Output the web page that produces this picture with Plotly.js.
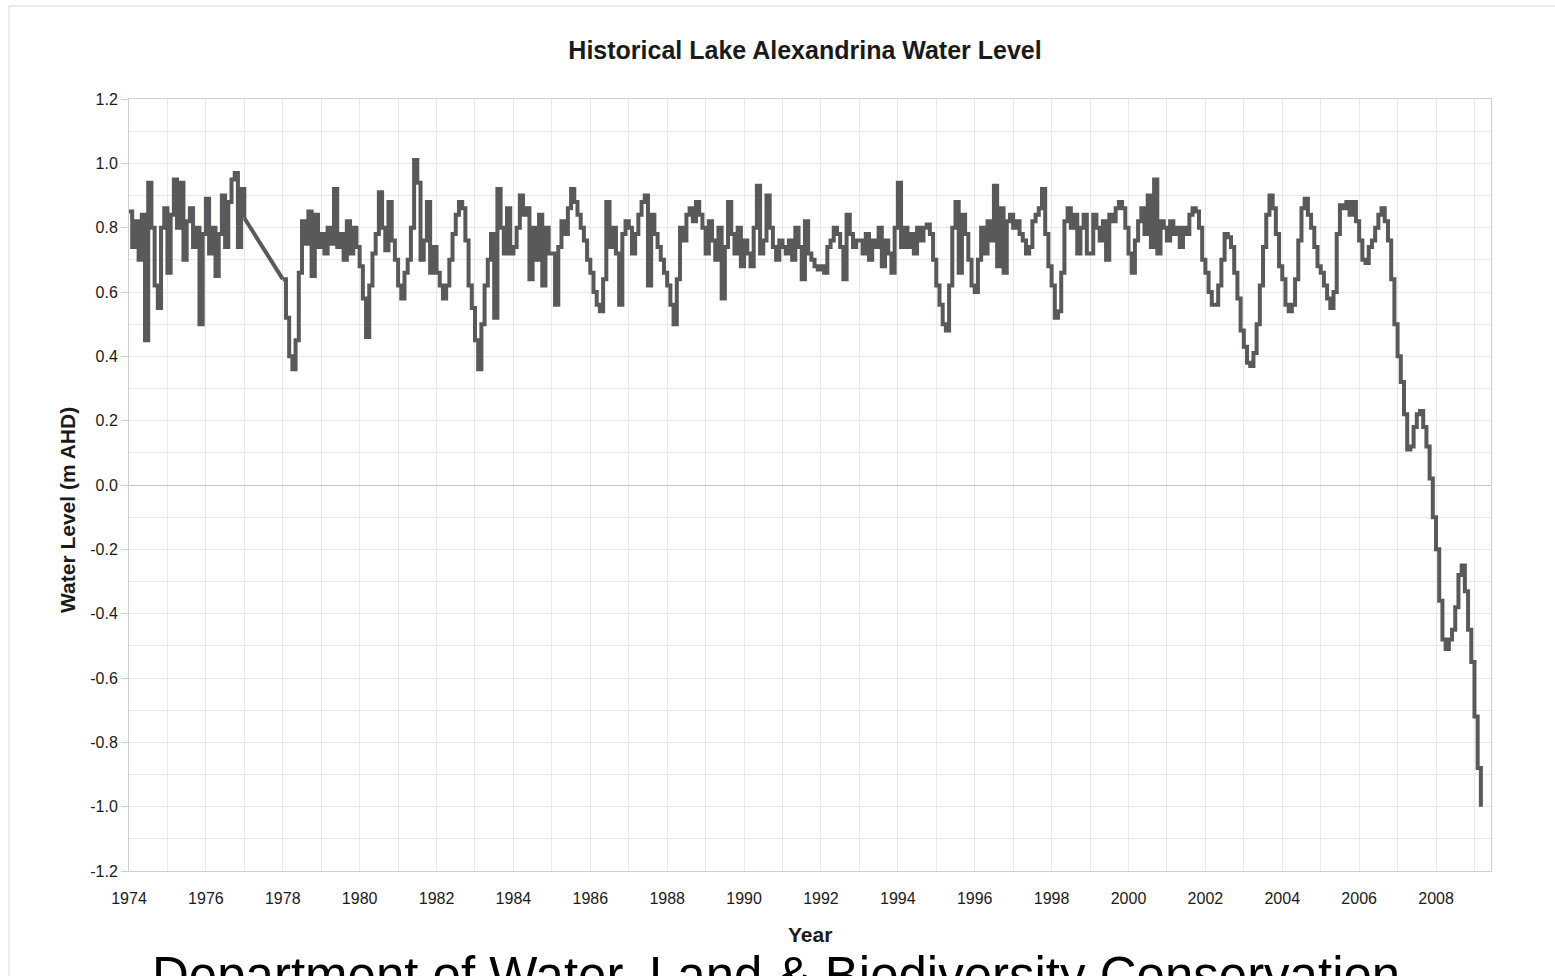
<!DOCTYPE html>
<html><head><meta charset="utf-8">
<script src="https://cdn.plot.ly/plotly-3.0.1.min.js"></script>
<style>html,body{margin:0;padding:0;background:#fff;}#chart{width:1555px;height:976px;}</style>
</head><body><div id="chart"></div>
<script>
// ---- chart text ----
const chartTitle = "Historical Lake Alexandrina Water Level";
const yTitle = "Water Level (m AHD)";
const xTitle = "Year";
const footerText = "Department of Water, Land & Biodiversity Conservation";

// ---- tick labels ----
const xTickVals = [1974,1976,1978,1980,1982,1984,1986,1988,1990,1992,1994,1996,1998,2000,2002,2004,2006,2008];
const xTickText = ["1974","1976","1978","1980","1982","1984","1986","1988","1990","1992","1994","1996","1998","2000","2002","2004","2006","2008"];
const yTickVals = [-1.2,-1.0,-0.8,-0.6,-0.4,-0.2,0.0,0.2,0.4,0.6,0.8,1.0,1.2];
const yTickText = ["-1.2","-1.0","-0.8","-0.6","-0.4","-0.2","0.0","0.2","0.4","0.6","0.8","1.0","1.2"];

// ---- monthly water levels (m AHD) ----
// Segment A: starts Jan 1974, monthly; last value = Jan 1977
const segAStart = 1974;
const levelsA = [
  0.85,0.74,0.82,0.70,0.84,0.45,0.94,0.80,0.62,0.55,0.80,0.86,   // 1974
  0.66,0.84,0.95,0.80,0.94,0.70,0.82,0.86,0.74,0.80,0.50,0.78,   // 1975
  0.89,0.72,0.80,0.65,0.78,0.90,0.74,0.88,0.95,0.97,0.74,0.92,   // 1976
  0.83                                                           // Jan 1977 (then data gap)
];
// Segment B: starts Jan 1978, monthly
const segBStart = 1978;
const levels1978_1985 = [
  0.64,0.52,0.40,0.36,0.45,0.66,0.82,0.75,0.85,0.65,0.84,0.74,   // 1978
  0.78,0.72,0.80,0.75,0.92,0.74,0.78,0.70,0.82,0.72,0.80,0.74,   // 1979
  0.68,0.58,0.46,0.62,0.72,0.78,0.91,0.80,0.73,0.88,0.76,0.70,   // 1980
  0.62,0.58,0.66,0.70,0.80,1.01,0.94,0.70,0.76,0.88,0.66,0.74,   // 1981
  0.66,0.62,0.58,0.62,0.70,0.78,0.84,0.88,0.86,0.76,0.62,0.55,   // 1982
  0.45,0.36,0.50,0.62,0.70,0.78,0.52,0.92,0.80,0.72,0.86,0.72,   // 1983
  0.74,0.80,0.90,0.84,0.86,0.64,0.80,0.70,0.84,0.62,0.80,0.72,   // 1984
  0.72,0.56,0.74,0.82,0.78,0.86,0.92,0.88,0.84,0.80,0.76,0.70    // 1985
];
const levels1986_1993 = [
  0.66,0.60,0.56,0.54,0.64,0.88,0.74,0.80,0.72,0.56,0.78,0.82,   // 1986
  0.80,0.72,0.78,0.84,0.88,0.90,0.62,0.84,0.78,0.74,0.70,0.66,   // 1987
  0.62,0.56,0.50,0.64,0.80,0.76,0.84,0.86,0.82,0.88,0.84,0.80,   // 1988
  0.72,0.82,0.76,0.70,0.80,0.58,0.74,0.88,0.78,0.72,0.80,0.68,   // 1989
  0.76,0.72,0.68,0.80,0.93,0.72,0.76,0.90,0.80,0.74,0.70,0.76,   // 1990
  0.74,0.72,0.76,0.70,0.80,0.74,0.64,0.82,0.72,0.70,0.68,0.67,   // 1991
  0.68,0.66,0.74,0.76,0.80,0.78,0.74,0.64,0.84,0.78,0.74,0.76,   // 1992
  0.76,0.72,0.78,0.70,0.76,0.74,0.80,0.68,0.76,0.72,0.66,0.80    // 1993
];
const levels1994_2001 = [
  0.94,0.74,0.80,0.74,0.78,0.72,0.80,0.76,0.80,0.81,0.78,0.70,   // 1994
  0.62,0.56,0.50,0.48,0.62,0.80,0.88,0.66,0.84,0.78,0.70,0.62,   // 1995
  0.60,0.70,0.80,0.72,0.82,0.76,0.93,0.68,0.86,0.66,0.82,0.84,   // 1996
  0.80,0.82,0.78,0.76,0.72,0.74,0.82,0.84,0.86,0.92,0.78,0.68,   // 1997
  0.62,0.52,0.54,0.66,0.82,0.86,0.80,0.84,0.72,0.80,0.84,0.72,   // 1998
  0.72,0.84,0.80,0.76,0.82,0.70,0.84,0.82,0.86,0.88,0.86,0.80,   // 1999
  0.72,0.66,0.76,0.82,0.86,0.78,0.90,0.74,0.95,0.72,0.82,0.80,   // 2000
  0.76,0.82,0.78,0.80,0.74,0.80,0.78,0.84,0.86,0.85,0.80,0.70    // 2001
];
const levels2002_2009 = [
  0.66,0.60,0.56,0.56,0.62,0.70,0.78,0.77,0.74,0.66,0.58,0.48,   // 2002
  0.43,0.38,0.37,0.41,0.50,0.62,0.74,0.84,0.90,0.86,0.78,0.68,   // 2003
  0.64,0.56,0.54,0.56,0.64,0.76,0.86,0.89,0.84,0.80,0.74,0.68,   // 2004
  0.66,0.62,0.58,0.55,0.60,0.78,0.87,0.86,0.88,0.84,0.88,0.82,   // 2005
  0.76,0.70,0.69,0.74,0.76,0.80,0.84,0.86,0.82,0.76,0.64,0.50,   // 2006
  0.40,0.32,0.22,0.11,0.12,0.18,0.22,0.23,0.18,0.12,0.02,-0.10,  // 2007
  -0.20,-0.36,-0.48,-0.51,-0.48,-0.45,-0.38,-0.28,-0.25,-0.33,-0.45,-0.55, // 2008
  -0.72,-0.88,-1.00                                               // 2009
];

// ---- build traces ----
const xA = [], yA = [], xB = [], yB = [];
levelsA.forEach((v, i) => { xA.push(segAStart + i / 12); yA.push(v); });
const levelsB = levels1978_1985.concat(levels1986_1993, levels1994_2001, levels2002_2009);
levelsB.forEach((v, i) => { xB.push(segBStart + i / 12); yB.push(v); });

const FONT = "Arial, 'Liberation Sans', sans-serif";
const W = 1555, H = 976;
const L = 129, R = 1491, T = 99, B = 871;
const px2x = p => (p - L) / (R - L);
const px2y = p => (B - p) / (B - T);

const lineCol = '#58595b';
const traces = [
  {x: xA, y: yA, type: 'scatter', mode: 'lines', line: {color: lineCol, width: 4, shape: 'hv'}, showlegend: false},
  // data gap 1977-1978 drawn as a straight connecting line
  {x: [xA[xA.length - 1], xB[0]], y: [yA[yA.length - 1], yB[0]], type: 'scatter', mode: 'lines',
   line: {color: lineCol, width: 4, shape: 'linear'}, showlegend: false},
  {x: xB, y: yB, type: 'scatter', mode: 'lines', line: {color: lineCol, width: 4, shape: 'hv'}, showlegend: false}
];

const gridCol = '#e9e9e9';
const layout = {
  width: W, height: H,
  margin: {l: L, r: W - R, t: T, b: H - B, pad: 0},
  paper_bgcolor: '#ffffff', plot_bgcolor: '#ffffff',
  font: {family: FONT, color: '#1a1a1a', size: 16},
  title: {text: '<b>' + chartTitle + '</b>', font: {family: FONT, size: 25, color: '#1a1a1a'},
          x: 805 / W, xanchor: 'center', y: 1 - 50 / H, yanchor: 'middle', xref: 'container', yref: 'container'},
  xaxis: {
    range: [1974, 2009.43], tickmode: 'array', tickvals: xTickVals, ticktext: xTickText,
    showgrid: true, gridcolor: gridCol, gridwidth: 1,
    minor: {tickmode: 'linear', tick0: 1974, dtick: 1, showgrid: true, gridcolor: gridCol, gridwidth: 1, ticks: ''},
    showline: true, mirror: true, linecolor: '#cfcfcf', linewidth: 1,
    ticks: 'outside', ticklen: 13, tickcolor: 'rgba(0,0,0,0)',
    zeroline: false, tickfont: {family: FONT, size: 16, color: '#1a1a1a'}
  },
  yaxis: {
    range: [-1.2, 1.2], tickmode: 'array', tickvals: yTickVals, ticktext: yTickText,
    showgrid: true, gridcolor: gridCol, gridwidth: 1,
    minor: {tickmode: 'linear', tick0: 0, dtick: 0.1, showgrid: true, gridcolor: gridCol, gridwidth: 1, ticks: ''},
    showline: true, mirror: true, linecolor: '#cfcfcf', linewidth: 1,
    ticks: 'outside', ticklen: 7, tickcolor: '#cfcfcf',
    zeroline: true, zerolinecolor: '#c4c4c4', zerolinewidth: 1,
    tickfont: {family: FONT, size: 16, color: '#1a1a1a'}
  },
  annotations: [
    {text: '<b>' + yTitle + '</b>', xref: 'paper', yref: 'paper', x: px2x(67), y: px2y(510),
     textangle: -90, showarrow: false, xanchor: 'center', yanchor: 'middle',
     font: {family: FONT, size: 21, color: '#1a1a1a'}},
    {text: '<b>' + xTitle + '</b>', xref: 'paper', yref: 'paper', x: px2x(810), y: px2y(934),
     showarrow: false, xanchor: 'center', yanchor: 'middle',
     font: {family: FONT, size: 21, color: '#1a1a1a'}},
    {text: footerText, xref: 'paper', yref: 'paper', x: px2x(150), y: px2y(945),
     showarrow: false, xanchor: 'left', yanchor: 'top',
     font: {family: FONT, size: 51, color: '#000000'}}
  ],
  shapes: [
    {type: 'rect', xref: 'paper', yref: 'paper', x0: px2x(9), x1: px2x(1560), y0: px2y(990), y1: px2y(6),
     line: {color: '#d9d9d9', width: 1}, fillcolor: 'rgba(0,0,0,0)', layer: 'below'}
  ]
};

Plotly.newPlot('chart', traces, layout, {displayModeBar: false, staticPlot: true});
</script></body></html>
